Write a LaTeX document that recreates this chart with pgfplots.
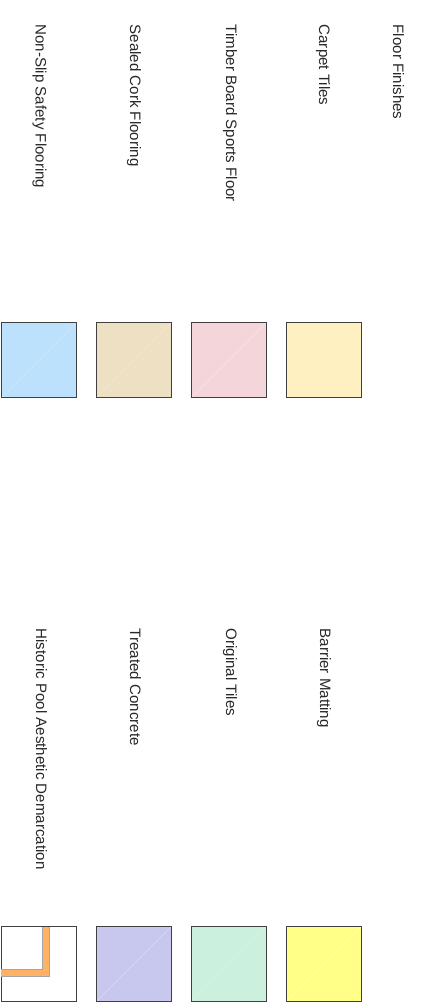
\documentclass[border=0pt]{standalone}
\usepackage{pgfplots}
\pgfplotsset{compat=1.18}
\usepackage{fontspec}
\setmainfont{Liberation Sans}
\definecolor{carpet}{RGB}{255,240,194}
\definecolor{timber}{RGB}{244,214,218}
\definecolor{cork}{RGB}{238,224,195}
\definecolor{nonslip}{RGB}{187,225,253}
\definecolor{barrier}{RGB}{255,255,136}
\definecolor{origtiles}{RGB}{204,240,222}
\definecolor{concrete}{RGB}{200,200,238}
\definecolor{poolorange}{RGB}{255,178,102}
\definecolor{txt}{RGB}{40,40,40}
\begin{document}
\begin{tikzpicture}
\begin{axis}[
  hide axis, scale only axis,
  width=420bp, height=1008bp,
  xmin=0, xmax=420, ymin=0, ymax=1008,
  y dir=reverse, clip=false,
]
\coordinate (bbtl) at (axis cs:0,0);
\coordinate (bbbr) at (axis cs:420,1008);
% swatches row 1
\addplot[fill=carpet, draw=black!75, line width=1bp] coordinates {(286.5,322.5) (361.5,322.5) (361.5,397.5) (286.5,397.5)} -- cycle;
\addplot[fill=timber, draw=black!75, line width=1bp] coordinates {(191.5,322.5) (266.5,322.5) (266.5,397.5) (191.5,397.5)} -- cycle;
\addplot[fill=cork, draw=black!75, line width=1bp] coordinates {(96.5,322.5) (171.5,322.5) (171.5,397.5) (96.5,397.5)} -- cycle;
\addplot[fill=nonslip, draw=black!75, line width=1bp] coordinates {(1.5,322.5) (76.5,322.5) (76.5,397.5) (1.5,397.5)} -- cycle;
% swatches row 2
\addplot[fill=barrier, draw=black!75, line width=1bp] coordinates {(286.5,926.5) (361.5,926.5) (361.5,1001.5) (286.5,1001.5)} -- cycle;
\addplot[fill=origtiles, draw=black!75, line width=1bp] coordinates {(191.5,926.5) (266.5,926.5) (266.5,1001.5) (191.5,1001.5)} -- cycle;
\addplot[fill=concrete, draw=black!75, line width=1bp] coordinates {(96.5,926.5) (171.5,926.5) (171.5,1001.5) (96.5,1001.5)} -- cycle;
\addplot[fill=white, draw=black!75, line width=1bp] coordinates {(1.5,926.5) (76.5,926.5) (76.5,1001.5) (1.5,1001.5)} -- cycle;
% faint diagonals
\foreach \xa in {2,97,192,287}{
  \edef\tmp{\noexpand\addplot[draw=white, opacity=0.3, line width=0.5bp] coordinates {(\xa,397) (\xa+74,323)};}\tmp
}
\foreach \xa in {97,192,287}{
  \edef\tmp{\noexpand\addplot[draw=white, opacity=0.3, line width=0.5bp] coordinates {(\xa,1001) (\xa+74,927)};}\tmp
}
% historic pool demarcation L
\addplot[draw=black!35, line width=8bp, line join=miter] coordinates {(45.5,926) (45.5,973.3) (1,973.3)};
\addplot[draw=poolorange, line width=6bp, line join=miter] coordinates {(45.5,926) (45.5,973.3) (1,973.3)};
\addplot[draw=black!75, line width=1bp] coordinates {(1.5,926.5) (76.5,926.5)};
% labels
\tikzset{lbl/.style={anchor=base west, rotate=-90, inner sep=0pt, text=txt, font=\fontsize{15.1bp}{17bp}\selectfont}}
\node[lbl] at (axis cs:393,24.5) {Floor Finishes};
\node[lbl] at (axis cs:319,24.5) {Carpet Tiles};
\node[lbl] at (axis cs:226,24.5) {Timber Board Sports Floor};
\node[lbl] at (axis cs:130,24.5) {Sealed Cork Flooring};
\node[lbl] at (axis cs:35.5,24.5) {Non-Slip Safety Flooring};
\node[lbl] at (axis cs:320,628.5) {Barrier Matting};
\node[lbl] at (axis cs:226,628.5) {Original Tiles};
\node[lbl] at (axis cs:130,628.5) {Treated Concrete};
\node[lbl] at (axis cs:36,628.5) {Historic Pool Aesthetic Demarcation};
\end{axis}
\pgfresetboundingbox
\path[use as bounding box] (bbtl) rectangle (bbbr);
\end{tikzpicture}
\end{document}
